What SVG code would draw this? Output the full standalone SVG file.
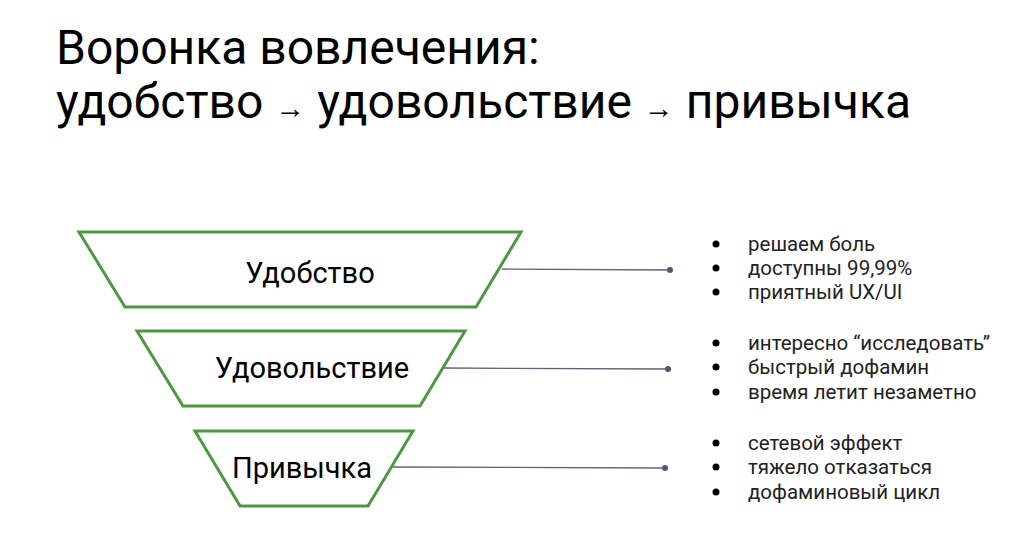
<svg xmlns="http://www.w3.org/2000/svg" width="1024" height="560" viewBox="0 0 1024 560">
<style>
text{font-family:Roboto,"Liberation Sans",sans-serif;fill:#000}
.t{font-size:48px}
.a{font-size:30px}
.lbl{font-size:29px;text-anchor:middle}
.b{font-size:20.5px;fill:#222}
.f{fill:#fff;stroke:#4a9a3f;stroke-width:3}
.c{stroke:#5b6478;stroke-width:1.3;fill:none}
.d{fill:#4d586e}
</style>
<rect width="1024" height="560" fill="#fff"/>
<text class="t" x="56" y="64">Воронка вовлечения:</text>
<text class="t" x="56" y="118">удобство <tspan class="a">→</tspan> удовольствие <tspan class="a">→</tspan> привычка</text>
<g id="connectors">
<line class="c" x1="502" y1="269" x2="670" y2="270"/><circle class="d" cx="670" cy="270" r="3"/>
<line class="c" x1="444" y1="368" x2="668" y2="369"/><circle class="d" cx="668" cy="369" r="3"/>
<line class="c" x1="393" y1="467" x2="665" y2="468"/><circle class="d" cx="665" cy="468" r="3"/>
</g>
<g id="n1"><polygon class="f" points="79,232 521,232 476,307 125,307"/><text class="lbl" x="310" y="283">Удобство</text></g>
<g id="n2"><polygon class="f" points="137,331 465,331 420,406 183,406"/><text class="lbl" x="312" y="378">Удовольствие</text></g>
<g id="n3"><polygon class="f" points="195,431 413,431 368,506 240,506"/><text class="lbl" x="302" y="478">Привычка</text></g>
<g id="list1">
<circle cx="716" cy="244" r="3.5"/><text class="b" x="748" y="251">решаем боль</text>
<circle cx="716" cy="268" r="3.5"/><text class="b" x="748" y="275">доступны 99,99%</text>
<circle cx="716" cy="292" r="3.5"/><text class="b" x="748" y="299">приятный UX/UI</text>
</g>
<g id="list2">
<circle cx="716" cy="343" r="3.5"/><text class="b" x="748" y="350">интересно “исследовать”</text>
<circle cx="716" cy="367" r="3.5"/><text class="b" x="748" y="374">быстрый дофамин</text>
<circle cx="716" cy="392" r="3.5"/><text class="b" x="748" y="399">время летит незаметно</text>
</g>
<g id="list3">
<circle cx="716" cy="443" r="3.5"/><text class="b" x="748" y="450">сетевой эффект</text>
<circle cx="716" cy="467" r="3.5"/><text class="b" x="748" y="474">тяжело отказаться</text>
<circle cx="716" cy="492" r="3.5"/><text class="b" x="748" y="499">дофаминовый цикл</text>
</g>
</svg>
